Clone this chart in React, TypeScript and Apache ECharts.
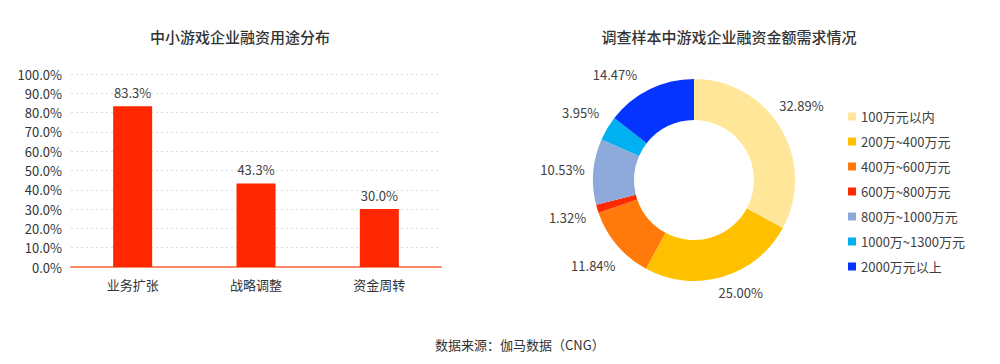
import React, { useEffect, useRef } from "react";
import * as echarts from "echarts";

const barCategories = ["业务扩张", "战略调整", "资金周转"];
const barValues = [83.3, 43.3, 30.0];

const pieNames = [
  "100万元以内",
  "200万~400万元",
  "400万~600万元",
  "600万~800万元",
  "800万~1000万元",
  "1000万~1300万元",
  "2000万元以上",
];
const pieValues = [32.89, 25.0, 11.84, 1.32, 10.53, 3.95, 14.47];
const pieColors = ["#FFE699", "#FFC000", "#FF7A0A", "#FF2A00", "#8EAADB", "#00B0F0", "#0533FF"];

const FONT = "'Noto Sans CJK SC', 'Noto Sans', sans-serif";
const TXT = "#404040";

export default function App() {
  const ref = useRef<HTMLDivElement>(null);
  useEffect(() => {
    if (!ref.current) return;
    const chart = echarts.init(ref.current, undefined, { renderer: "svg" });
    const pieCenter = [694, 180];
    chart.setOption({
      animation: false,
      textStyle: { fontFamily: FONT },
      title: [
        {
          text: "中小游戏企业融资用途分布",
          left: 235,
          top: 24,
          textAlign: "center",
          textStyle: { fontSize: 15, fontWeight: 500, color: "#333", fontFamily: FONT },
        },
        {
          text: "调查样本中游戏企业融资金额需求情况",
          left: 724,
          top: 24,
          textAlign: "center",
          textStyle: { fontSize: 15, fontWeight: 500, color: "#333", fontFamily: FONT },
        },
      ],
      grid: { left: 71, right: 559, top: 74, bottom: 97, containLabel: false },
      xAxis: {
        type: "category",
        data: barCategories,
        axisTick: { show: false },
        axisLine: { lineStyle: { color: "#F8876A", width: 2 } },
        axisLabel: { fontSize: 13, color: "#333", margin: 11, fontFamily: FONT },
      },
      yAxis: {
        type: "value",
        min: 0,
        max: 100,
        interval: 10,
        axisLine: { show: false },
        axisTick: { show: false },
        axisLabel: {
          fontSize: 13,
          color: "#333",
          margin: 9,
          fontFamily: FONT,
          formatter: (v: number) => `${v.toFixed(1)}%`,
        },
        splitLine: { lineStyle: { color: "#DCDCDC", type: [2, 3] } },
      },
      legend: {
        orient: "vertical",
        left: 843,
        top: 105,
        icon: "rect",
        itemWidth: 8,
        itemHeight: 8,
        itemGap: 12,
        data: pieNames,
        textStyle: { fontSize: 13, color: TXT, fontFamily: FONT },
      },
      series: [
        {
          type: "bar",
          data: barValues,
          barWidth: 39,
          itemStyle: { color: "#FF2700" },
          label: {
            show: true,
            position: "top",
            distance: 7,
            fontSize: 13,
            color: TXT,
            fontFamily: FONT,
            formatter: (p: any) => `${Number(p.value).toFixed(1)}%`,
          },
        },
        {
          type: "pie",
          center: pieCenter,
          radius: [60, 101],
          startAngle: 90,
          clockwise: true,
          label: { show: false },
          labelLine: { show: false },
          data: pieNames.map((n, i) => ({ name: n, value: pieValues[i], itemStyle: { color: pieColors[i] } })),
        },
        {
          type: "pie",
          center: pieCenter,
          radius: [101, 157],
          startAngle: 90,
          clockwise: true,
          silent: true,
          legendHoverLink: false,
          itemStyle: { color: "rgba(0,0,0,0)" },
          label: {
            show: true,
            position: "inside",
            fontSize: 13,
            color: TXT,
            fontFamily: FONT,
            formatter: (p: any) => `${Number(p.value).toFixed(2)}%`,
          },
          labelLine: { show: false },
          data: pieNames.map((n, i) => ({
            name: n,
            value: pieValues[i],
            label:
              i === 6
                ? { offset: [-21, 13] }
                : i === 1
                ? { offset: [9, -14] }
                : i === 0
                ? { offset: [-6, -7] }
                : undefined,
          })),
        },
      ],
      graphic: [
        {
          type: "text",
          left: 435,
          top: 338,
          style: { text: "数据来源：伽马数据（CNG）", fontSize: 13, fill: "#333", fontFamily: FONT },
        },
      ],
    });
    return () => chart.dispose();
  }, []);
  return <div ref={ref} style={{ position: "fixed", left: 0, top: 0, width: 1000, height: 364, background: "#fff" }} />;
}
